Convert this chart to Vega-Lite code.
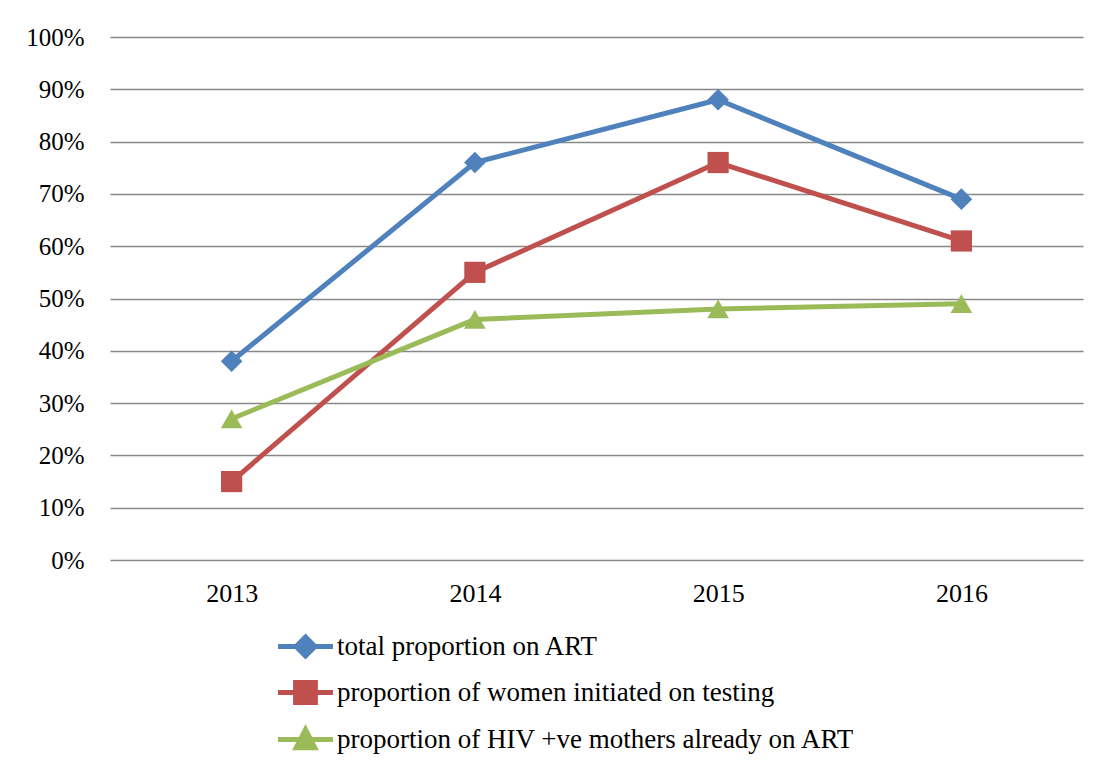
{
  "$schema": "https://vega.github.io/schema/vega-lite/v6.json",
  "width": 973,
  "height": 523,
  "autosize": {"type": "none"},
  "padding": {"left": 110, "top": 37, "right": 17, "bottom": 207},
  "background": "white",
  "config": {
    "font": "Liberation Serif",
    "view": {"stroke": null},
    "axis": {"labelFont": "Liberation Serif", "labelFontSize": 26, "labelColor": "#000000", "domain": false, "ticks": false, "tickSize": 0},
    "legend": {"labelFont": "Liberation Serif", "labelFontSize": 27, "labelColor": "#000000"}
  },
  "data": {
    "values": [
      {"year": "2013", "series": "total proportion on ART", "value": 0.38},
      {"year": "2014", "series": "total proportion on ART", "value": 0.76},
      {"year": "2015", "series": "total proportion on ART", "value": 0.88},
      {"year": "2016", "series": "total proportion on ART", "value": 0.69},
      {"year": "2013", "series": "proportion of women initiated on testing", "value": 0.15},
      {"year": "2014", "series": "proportion of women initiated on testing", "value": 0.55},
      {"year": "2015", "series": "proportion of women initiated on testing", "value": 0.76},
      {"year": "2016", "series": "proportion of women initiated on testing", "value": 0.61},
      {"year": "2013", "series": "proportion of HIV +ve mothers already on ART", "value": 0.27},
      {"year": "2014", "series": "proportion of HIV +ve mothers already on ART", "value": 0.46},
      {"year": "2015", "series": "proportion of HIV +ve mothers already on ART", "value": 0.48},
      {"year": "2016", "series": "proportion of HIV +ve mothers already on ART", "value": 0.49}
    ]
  },
  "encoding": {
    "x": {
      "field": "year", "type": "ordinal",
      "scale": {"type": "point", "padding": 0.5},
      "axis": {"title": null, "labelAngle": 0, "labelPadding": 20, "grid": false}
    },
    "y": {
      "field": "value", "type": "quantitative",
      "scale": {"domain": [0, 1], "nice": false, "zero": true},
      "axis": {"title": null, "format": ".0%", "values": [0, 0.1, 0.2, 0.3, 0.4, 0.5, 0.6, 0.7, 0.8, 0.9, 1], "labelFontSize": 25, "labelPadding": 26, "grid": true, "gridColor": "#888888", "gridWidth": 1.6}
    },
    "color": {
      "field": "series", "type": "nominal",
      "scale": {
        "domain": ["total proportion on ART", "proportion of women initiated on testing", "proportion of HIV +ve mothers already on ART"],
        "range": ["#4F81BD", "#C0504D", "#9BBB59"]
      },
      "legend": {
        "title": null,
        "orient": "none",
        "legendX": 178,
        "legendY": 592,
        "direction": "vertical",
        "symbolSize": 900,
        "symbolStrokeWidth": 5,
        "symbolOpacity": 1,
        "symbolType": {"expr": "datum.value === 'total proportion on ART' ? 'M-1.83,0H1.83M0,-0.63L0.63,0L0,0.63L-0.63,0Z' : datum.value === 'proportion of women initiated on testing' ? 'M-1.83,0H1.83M-0.66,-0.66H0.66V0.66H-0.66Z' : 'M-1.83,0H1.83M0,-0.66L0.62,0.55H-0.62Z'"},
        "labelOffset": 14,
        "labelLimit": 0,
        "rowPadding": 6
      }
    }
  },
  "layer": [
    {
      "mark": {"type": "line", "strokeWidth": 5, "strokeJoin": "round"}
    },
    {
      "transform": [{"filter": "datum.series === 'total proportion on ART'"}],
      "mark": {"type": "point", "filled": true, "opacity": 1, "size": 470, "shape": "diamond"}
    },
    {
      "transform": [{"filter": "datum.series === 'proportion of women initiated on testing'"}],
      "mark": {"type": "point", "filled": true, "opacity": 1, "size": 450, "shape": "square"}
    },
    {
      "transform": [{"filter": "datum.series === 'proportion of HIV +ve mothers already on ART'"}],
      "mark": {"type": "point", "filled": true, "opacity": 1, "size": 470, "shape": "triangle-up"}
    }
  ]
}
